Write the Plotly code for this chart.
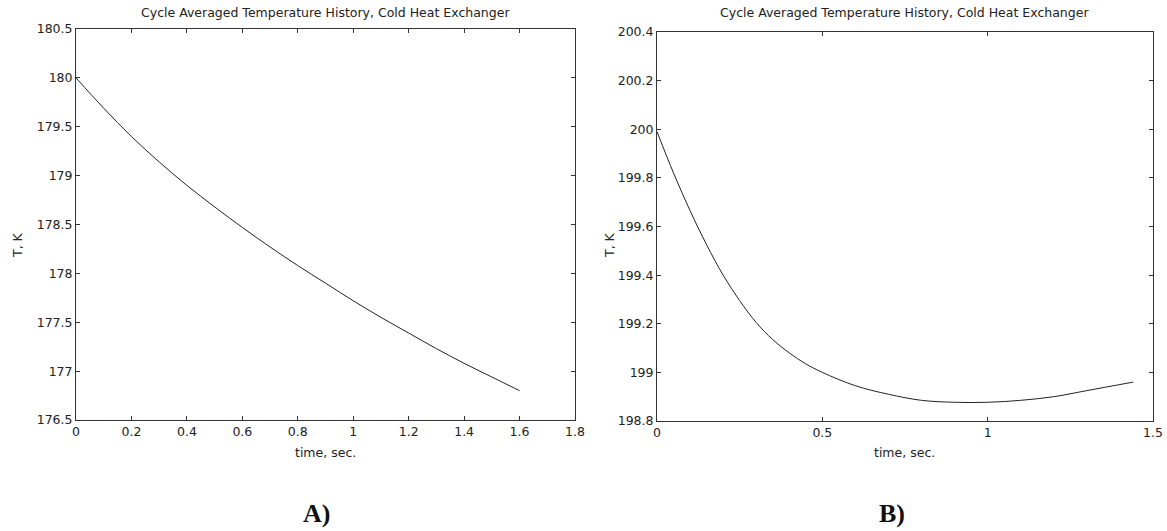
import plotly.graph_objects as go

# Data
time_a = [0, 0.1, 0.2, 0.3, 0.4, 0.5, 0.6, 0.7, 0.8, 0.9, 1.0, 1.1, 1.2, 1.3, 1.4, 1.5, 1.6]
temp_a = [180.0, 179.69, 179.40, 179.14, 178.90, 178.68, 178.47, 178.27, 178.08, 177.90,
          177.72, 177.55, 177.39, 177.23, 177.08, 176.94, 176.80]

time_b = [0, 0.05, 0.1, 0.15, 0.2, 0.25, 0.3, 0.35, 0.4, 0.45, 0.5, 0.6, 0.7, 0.8, 0.9, 1.0,
          1.1, 1.2, 1.3, 1.44]
temp_b = [199.99, 199.82, 199.665, 199.525, 199.40, 199.295, 199.205, 199.135, 199.08, 199.035,
          199.00, 198.945, 198.91, 198.885, 198.877, 198.877, 198.885, 198.90, 198.925, 198.96]

xticks_a = [0, 0.2, 0.4, 0.6, 0.8, 1, 1.2, 1.4, 1.6, 1.8]
yticks_a = [176.5, 177, 177.5, 178, 178.5, 179, 179.5, 180, 180.5]
xticks_b = [0, 0.5, 1, 1.5]
yticks_b = [198.8, 199, 199.2, 199.4, 199.6, 199.8, 200, 200.2, 200.4]

title_text = "Cycle Averaged Temperature History, Cold Heat Exchanger"
xlabel = "time, sec."
ylabel = "T, K"
panel_labels = ["A)", "B)"]

W, H = 1167, 531
FONT = "DejaVu Sans, Arial, sans-serif"
AX = "#333333"
TXT = "#222222"

def px(x):
    return x / W

def py(y):
    return 1 - y / H

fig = go.Figure()
fig.add_trace(go.Scatter(x=time_a, y=temp_a, mode="lines", line=dict(color="#222", width=1),
                         xaxis="x", yaxis="y", showlegend=False, line_shape="spline"))
fig.add_trace(go.Scatter(x=time_b, y=temp_b, mode="lines", line=dict(color="#222", width=1),
                         xaxis="x2", yaxis="y2", showlegend=False, line_shape="spline"))

axis_common = dict(showline=True, linecolor=AX, linewidth=1, mirror="ticks", ticks="inside",
                   ticklen=4, tickcolor=AX, showgrid=False, zeroline=False, automargin=False,
                   tickfont=dict(family=FONT, size=12.5, color=TXT))

fig.update_layout(
    width=W, height=H,
    margin=dict(l=0, r=0, t=0, b=0),
    paper_bgcolor="white", plot_bgcolor="white",
    xaxis=dict(domain=[px(76), px(575)], range=[0, 1.8], tickvals=xticks_a,
               anchor="y", **axis_common),
    yaxis=dict(domain=[py(420), py(29)], range=[176.5, 180.5], tickvals=yticks_a,
               anchor="x", **axis_common),
    xaxis2=dict(domain=[px(657), px(1153)], range=[0, 1.5], tickvals=xticks_b,
                anchor="y2", **axis_common),
    yaxis2=dict(domain=[py(421), py(32)], range=[198.8, 200.4], tickvals=yticks_b,
                anchor="x2", **axis_common),
)

ann = []
for cx, lx in [(325, 18), (904, 610)]:
    ann.append(dict(x=px(cx), y=py(12), xref="paper", yref="paper", text=title_text,
                    showarrow=False, xanchor="center", yanchor="middle",
                    font=dict(family=FONT, size=12.5, color=TXT)))
    ann.append(dict(x=px(cx), y=py(452), xref="paper", yref="paper", text=xlabel,
                    showarrow=False, xanchor="center", yanchor="middle",
                    font=dict(family=FONT, size=12.5, color=TXT)))
    ann.append(dict(x=px(lx), y=py(245), xref="paper", yref="paper", text=ylabel,
                    showarrow=False, xanchor="center", yanchor="middle", textangle=-90,
                    font=dict(family=FONT, size=12.5, color=TXT)))
for lab, cx in zip(panel_labels, [316, 892]):
    ann.append(dict(x=px(cx), y=py(513), xref="paper", yref="paper", text="<b>" + lab + "</b>",
                    showarrow=False, xanchor="center", yanchor="middle",
                    font=dict(family="Liberation Serif, Times New Roman, serif", size=26, color="#111")))
fig.update_layout(annotations=ann)

fig.write_html("out.html", config={"displayModeBar": False},
               post_script="document.body.style.margin='0';document.body.style.overflow='hidden';")
